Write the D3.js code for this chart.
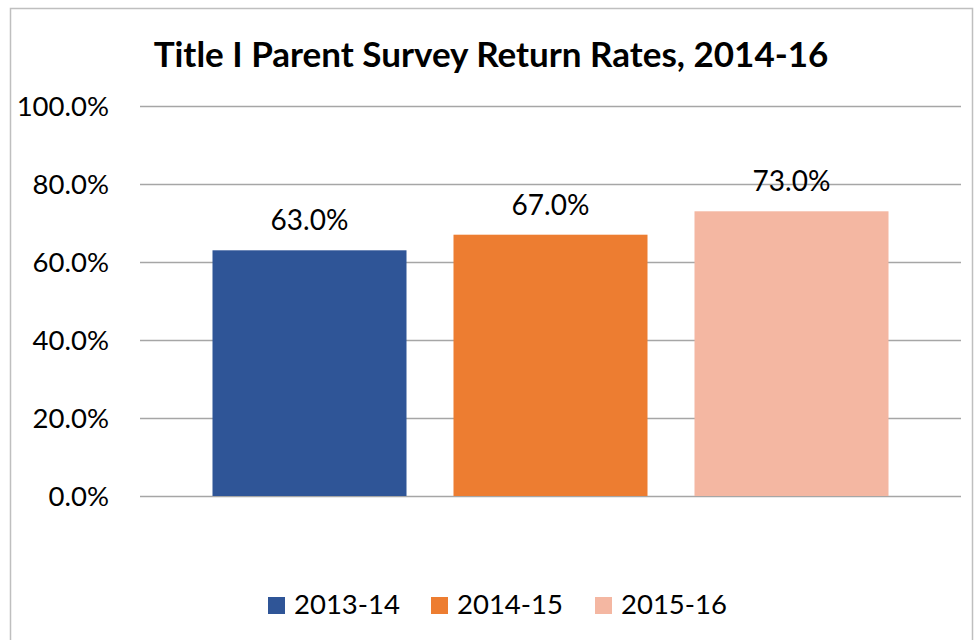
<!DOCTYPE html>
<html>
<head>
<meta charset="utf-8">
<script src="https://cdn.jsdelivr.net/npm/d3@7"></script>
<style>
  body { margin: 0; background: #fff; }
  text { font-family: Lato, "Open Sans", sans-serif; fill: #000; }
</style>
</head>
<body>
<div id="chart"></div>
<script>
// 数据
var title = "Title I Parent Survey Return Rates, 2014-16";
var seriesNames = ["2013-14", "2014-15", "2015-16"];
var seriesValues = [0.63, 0.67, 0.73];
var seriesColors = ["#2F5597", "#ED7D31", "#F4B7A2"];
var yTicks = [0, 0.2, 0.4, 0.6, 0.8, 1.0];

var w = 978, h = 640;

var svg = d3.select("#chart").append("svg").attr("width", w).attr("height", h);

// 外边框
svg.append("rect").attr("x", 10.5).attr("y", 8.5).attr("width", 962).attr("height", 660)
    .attr("fill", "#fff").attr("stroke", "#BFBFBF").attr("stroke-width", 1.5);

// 比例尺
var y = d3.scaleLinear().domain([0, 1]).range([496, 106]);
var x = d3.scaleBand().domain(seriesNames).range([189, 912]).paddingInner(0.195).paddingOuter(0.0975);

// 标题
svg.append("text").attr("x", 491).attr("y", 67).attr("text-anchor", "middle")
    .attr("font-size", 35).attr("font-weight", "bold").text(title);

// 横向网格线
svg.selectAll(".hlines").data(yTicks).enter().append("line")
    .attr("x1", 140).attr("x2", 961)
    .attr("y1", function (d) { return Math.round(y(d)) + 0.5; })
    .attr("y2", function (d) { return Math.round(y(d)) + 0.5; })
    .attr("stroke", "#A6A6A6").attr("stroke-width", 1.5);

// y轴刻度
var yAxis = d3.axisLeft(y).tickValues(yTicks).tickSize(0).tickPadding(0).tickFormat(d3.format(".1%"));
var gy = svg.append("g").attr("transform", "translate(109,0)").call(yAxis);
gy.select(".domain").remove();
gy.selectAll("text").attr("font-size", 27.5).attr("font-family", "Lato, sans-serif").attr("fill", "#000").attr("dy", "0.35em");

// 柱子
svg.selectAll(".bar").data(seriesValues).enter().append("rect")
    .attr("x", function (d, i) { return x(seriesNames[i]); })
    .attr("width", x.bandwidth())
    .attr("y", function (d) { return y(d); })
    .attr("height", function (d) { return y(0) - y(d); })
    .attr("fill", function (d, i) { return seriesColors[i]; });

// 数据标签
svg.selectAll(".lbl").data(seriesValues).enter().append("text")
    .attr("x", function (d, i) { return x(seriesNames[i]) + x.bandwidth() / 2; })
    .attr("y", function (d) { return y(d) - 20; })
    .attr("text-anchor", "middle").attr("font-size", 28)
    .text(function (d) { return d3.format(".1%")(d); });

// 图例
var legendX = [268, 431, 595];
var lg = svg.selectAll(".legend").data(seriesNames).enter().append("g")
    .attr("transform", function (d, i) { return "translate(" + legendX[i] + ",597)"; });
lg.append("rect").attr("width", 17).attr("height", 17)
    .attr("fill", function (d, i) { return seriesColors[i]; });
lg.append("text").attr("x", 26).attr("y", 17).attr("font-size", 27.5).text(function (d) { return d; });
</script>
</body>
</html>
